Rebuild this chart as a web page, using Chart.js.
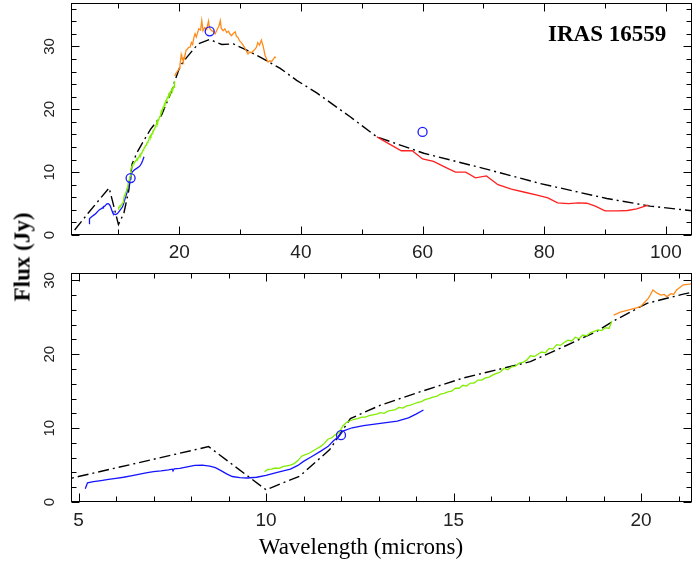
<!DOCTYPE html>
<html>
<head>
<meta charset="utf-8">
<script src="https://cdn.jsdelivr.net/npm/chart.js@4.4.1/dist/chart.umd.min.js"></script>
<style>
    body { margin: 0; background: #fff; }
    #wrap { position: relative; width: 693px; height: 564px; overflow: hidden; }
    canvas { position: absolute; left: 0; }
    .lbl { position: absolute; font-family: "Liberation Serif", "DejaVu Serif", serif; color: #000; white-space: nowrap; line-height: 23px; font-size: 23px; }
</style>
</head>
<body>
<div id="wrap">
    <canvas id="topChart" width="693" height="262" style="top:0"></canvas>
    <canvas id="bottomChart" width="693" height="302" style="top:262px"></canvas>
    <div class="lbl" style="left:548px; top:22px; font-weight:bold;">IRAS 16559</div>
    <div class="lbl" style="left:361px; top:535px; transform:translateX(-50%);">Wavelength (microns)</div>
    <div class="lbl" style="left:22px; top:257px; font-weight:bold; transform:translate(-50%,-50%) rotate(-90deg);">Flux (Jy)</div>
</div>
<script>
// short-wavelength spectrum (blue)
const blueWave = [5.18, 5.24, 5.4, 5.6, 5.8, 6.0, 6.2, 6.4, 6.6, 6.8, 7.0, 7.2, 7.4, 7.5, 7.52, 7.55, 7.7, 7.9, 8.1, 8.3,
    8.5, 8.65, 8.8, 8.95, 9.1, 9.3, 9.5, 9.75, 10.0, 10.3, 10.65, 10.85, 11.0, 11.2, 11.45, 11.65, 11.8, 11.95, 12.05, 12.3,
    12.6, 13.0, 13.5, 13.8, 14.0, 14.2];
const blueFlux = [1.8, 2.6, 2.75, 2.9, 3.05, 3.2, 3.35, 3.55, 3.75, 3.95, 4.1, 4.2, 4.35, 4.45, 4.2, 4.5, 4.55, 4.75, 4.95, 4.98,
    4.85, 4.65, 4.25, 3.8, 3.45, 3.3, 3.25, 3.35, 3.6, 4.0, 4.45, 4.95, 5.5, 6.1, 6.85, 7.5, 8.3, 8.9, 9.6, 10.05,
    10.35, 10.6, 10.95, 11.4, 11.9, 12.45];

// mid-IR spectrum (green)
const greenWave = [9.96, 10.05, 10.15, 10.25, 10.35, 10.45, 10.55, 10.65, 10.75, 10.85, 10.95, 11.05, 11.15, 11.25, 11.35, 11.45,
    11.55, 11.65, 11.75, 11.85, 11.95, 12.05, 12.15, 12.25, 12.35, 12.45, 12.55, 12.65, 12.75, 12.85, 12.95, 13.05, 13.15,
    13.25, 13.35, 13.45, 13.55, 13.65, 13.75, 13.85, 13.95, 14.05, 14.15, 14.25, 14.35, 14.45, 14.55, 14.65, 14.75, 14.85,
    14.95, 15.05, 15.15, 15.25, 15.35, 15.45, 15.55, 15.65, 15.75, 15.85, 15.95, 16.05, 16.15, 16.25, 16.35, 16.45, 16.55,
    16.65, 16.75, 16.85, 16.95, 17.05, 17.15, 17.25, 17.35, 17.45, 17.55, 17.65, 17.75, 17.85, 17.95, 18.05, 18.15, 18.25,
    18.35, 18.45, 18.55, 18.65, 18.75, 18.85, 18.95, 19.05, 19.15, 19.22];
const greenFlux = [4.1, 4.4, 4.45, 4.6, 4.55, 4.8, 4.9, 5.0, 5.2, 5.6, 6.2, 6.4, 6.6, 6.9, 7.2, 7.5,
    7.9, 8.5, 8.7, 9.1, 9.4, 10.3, 10.8, 11.0, 11.2, 11.3, 11.5, 11.5, 11.7, 11.8, 11.9, 12.1, 12.0,
    12.3, 12.4, 12.5, 12.8, 12.7, 13.0, 13.1, 13.3, 13.5, 13.6, 13.9, 14.0, 14.2, 14.3, 14.6, 14.7, 14.9,
    15.0, 15.4, 15.4, 15.8, 15.7, 16.1, 16.1, 16.5, 16.5, 16.8, 16.9, 17.2, 17.4, 17.6, 18.1, 17.9, 18.3,
    18.4, 18.8, 18.9, 19.2, 19.8, 19.7, 20.0, 20.3, 20.2, 20.8, 20.7, 21.3, 21.2, 21.6, 21.9, 21.8, 22.3,
    22.1, 22.6, 22.5, 22.9, 23.1, 23.3, 23.2, 23.6, 23.5, 24.5];

// far-IR spectrum (orange)
const orangeWave = [19.27, 19.45, 19.6, 19.75, 19.9, 20.0, 20.11, 20.2, 20.32, 20.42, 20.53, 20.62, 20.69, 20.8, 20.87, 20.95,
    21.0, 21.13, 21.3, 21.5, 21.8, 22.0, 22.2, 22.4, 22.6, 22.8, 23.0, 23.2, 23.5, 23.7, 23.9, 24.2, 24.5, 24.8, 24.85,
    25.0, 25.3, 25.6, 25.9, 26.2, 26.5, 26.75, 26.9, 27.2, 27.5, 27.8, 28.1, 28.3, 28.6, 28.9, 29.2, 29.4, 29.6, 29.9,
    30.2, 30.5, 30.8, 31.0, 31.3, 31.6, 31.9, 32.2, 32.5, 32.7, 32.9, 33.2, 33.5, 33.8, 34.1, 34.4, 34.6, 34.9, 35.2,
    35.5, 35.7, 35.9];
const orangeFlux = [25.3, 25.7, 25.9, 26.1, 26.3, 26.5, 27.1, 27.6, 28.7, 28.3, 28.0, 28.1, 27.8, 28.2, 28.1, 28.7,
    28.9, 29.4, 29.5, 29.8, 29.9, 30.6, 30.3, 31.4, 32.0, 31.5, 32.1, 32.8, 32.6, 34.1, 32.5, 33.0, 32.7, 34.0, 33.6,
    32.9, 32.5, 32.4, 32.0, 32.6, 33.2, 34.1, 32.9, 32.5, 32.8, 32.2, 32.4, 32.0, 31.7, 32.1, 32.3, 31.6, 31.5, 30.9,
    30.6, 30.2, 29.7, 29.3, 28.8, 29.1, 29.0, 29.3, 29.6, 29.9, 30.6, 30.2, 31.0, 30.0, 28.6, 27.9, 27.5, 27.7, 27.6,
    28.0, 28.3, 28.2];

// long-wavelength spectrum (red)
const redWave = [52.5, 54.5, 56.5, 58.3, 60.0, 61.8, 63.7, 65.4, 67.1, 68.7, 70.5, 72.4, 74.6, 76.8, 79.0, 80.6, 82.2,
    84.0, 85.6, 87.0, 88.4, 90.0, 92.0, 93.7, 95.2, 97.1];
const redFlux = [15.6, 14.5, 13.4, 13.4, 12.1, 11.7, 10.8, 10.0, 10.0, 9.1, 9.4, 8.0, 7.3, 6.8, 6.3, 5.9, 5.1,
    5.0, 5.1, 5.05, 4.6, 3.85, 3.85, 3.9, 4.15, 4.75];

// model SED (dash-dot)
const modelWave = [2.8, 5.0, 8.47, 10.0, 10.9, 11.7, 12.25, 13.05, 14.1, 15.27, 16.16, 17.05, 17.93, 18.82, 19.3, 20.16,
    21.1, 23.1, 25.0, 27.0, 28.9, 31.1, 33.3, 36.6, 39.3, 42.6, 48.1, 52.5, 60.2, 70.0, 79.3, 90.3, 97.4, 104.3];
const modelFlux = [0.8, 3.45, 7.5, 1.66, 3.5, 7.1, 11.3, 13.1, 14.9, 16.8, 17.9, 19.0, 21.0, 23.1, 24.6, 26.9,
    28.1, 30.4, 31.1, 30.3, 30.4, 29.4, 28.3, 26.5, 24.6, 22.6, 18.8, 15.6, 13.0, 10.6, 8.2, 5.8, 4.6, 3.85];

// IRAS photometry (circles)
const irasWave = [12, 25, 60];
const irasFlux = [9.05, 32.4, 16.4];

// axis ticks
const topXMajor = [20, 40, 60, 80, 100];
const topXMinor = [10, 30, 50, 70, 90];
const topYMajor = [0, 10, 20, 30];
const topYMinor = [2, 4, 6, 8, 12, 14, 16, 18, 22, 24, 26, 28, 32, 34, 36];
const botXMajor = [5, 10, 15, 20];
const botXMinor = [6, 7, 8, 9, 11, 12, 13, 14, 16, 17, 18, 19, 21];
const botYMajor = [0, 10, 20, 30];
const botYMinor = [2, 4, 6, 8, 12, 14, 16, 18, 22, 24, 26, 28];

const pts = (xs, ys) => xs.map((x, i) => ({ x, y: ys[i] }));

// frame with inward ticks on all four sides, labels on left and bottom
const frameAxes = {
    id: 'frameAxes',
    afterDatasetsDraw(chart, args, opts) {
        const { ctx, chartArea: a, scales: { x, y } } = chart;
        const L = Math.round(a.left) + 0.5, R = Math.round(a.right) - 0.5;
        const T = Math.round(a.top) + 0.5, B = Math.round(a.bottom) - 0.5;
        ctx.save();
        ctx.strokeStyle = '#000';
        ctx.lineWidth = 1;
        ctx.strokeRect(L, T, R - L, B - T);
        ctx.beginPath();
        const xt = (vals, len) => vals.forEach(v => {
            const p = Math.round(x.getPixelForValue(v)) + 0.5;
            ctx.moveTo(p, B); ctx.lineTo(p, B - len);
            ctx.moveTo(p, T); ctx.lineTo(p, T + len);
        });
        const yt = (vals, len) => vals.forEach(v => {
            const p = Math.round(y.getPixelForValue(v)) + 0.5;
            ctx.moveTo(L, p); ctx.lineTo(L + len, p);
            ctx.moveTo(R, p); ctx.lineTo(R - len, p);
        });
        xt(opts.xMajor, 8); xt(opts.xMinor, 5);
        yt(opts.yMajor, 8); yt(opts.yMinor, 5);
        ctx.stroke();

        ctx.fillStyle = '#222';
        ctx.textAlign = 'center';
        ctx.textBaseline = 'middle';
        ctx.font = '19px "Liberation Sans", Arial, sans-serif';
        opts.xMajor.forEach(v => ctx.fillText(String(v), x.getPixelForValue(v), a.bottom + opts.xLabelGap));
        ctx.font = '15px "Liberation Sans", Arial, sans-serif';
        opts.yMajor.forEach(v => {
            ctx.save();
            ctx.translate(a.left - 21, y.getPixelForValue(v));
            ctx.rotate(-Math.PI / 2);
            ctx.fillText(String(v), 0, 0);
            ctx.restore();
        });
        ctx.restore();
    }
};

const spectrum = (xs, ys, color) => ({
    data: pts(xs, ys), showLine: true, borderColor: color, borderWidth: 1.3,
    pointRadius: 0, fill: false, tension: 0, order: 2
});

const makeDatasets = () => [
    { data: pts(irasWave, irasFlux), showLine: false, pointRadius: 4.5, pointBorderWidth: 1.3,
      pointBorderColor: '#1a1aff', pointBackgroundColor: 'rgba(0,0,0,0)', order: 0 },
    spectrum(redWave, redFlux, '#ff2020'),
    spectrum(orangeWave, orangeFlux, '#ff8c1a'),
    spectrum(greenWave, greenFlux, '#80ee00'),
    spectrum(blueWave, blueFlux, '#1414ff'),
    { data: pts(modelWave, modelFlux), showLine: true, borderColor: '#000', borderWidth: 1.4,
      borderDash: [11, 4, 2, 4], pointRadius: 0, fill: false, tension: 0, order: 5 }
];

const makeChart = (id, xMin, xMax, yMax, padding, ticks) => new Chart(document.getElementById(id), {
    type: 'scatter',
    data: { datasets: makeDatasets() },
    options: {
        responsive: false,
        animation: false,
        devicePixelRatio: 1,
        events: [],
        layout: { padding, autoPadding: false },
        scales: {
            x: { type: 'linear', min: xMin, max: xMax, display: false },
            y: { type: 'linear', min: 0, max: yMax, display: false }
        },
        plugins: {
            legend: { display: false },
            tooltip: { enabled: false },
            frameAxes: ticks
        }
    },
    plugins: [frameAxes]
});

makeChart('topChart', 2.2, 104.3, 36.9, { left: 71, right: 1, top: 3, bottom: 27 },
    { xMajor: topXMajor, xMinor: topXMinor, yMajor: topYMajor, yMinor: topYMinor, xLabelGap: 18 });
makeChart('bottomChart', 4.8, 21.36, 31.0, { left: 71, right: 1, top: 11, bottom: 62 },
    { xMajor: botXMajor, xMinor: botXMinor, yMajor: botYMajor, yMinor: botYMinor, xLabelGap: 19 });
</script>
</body>
</html>
